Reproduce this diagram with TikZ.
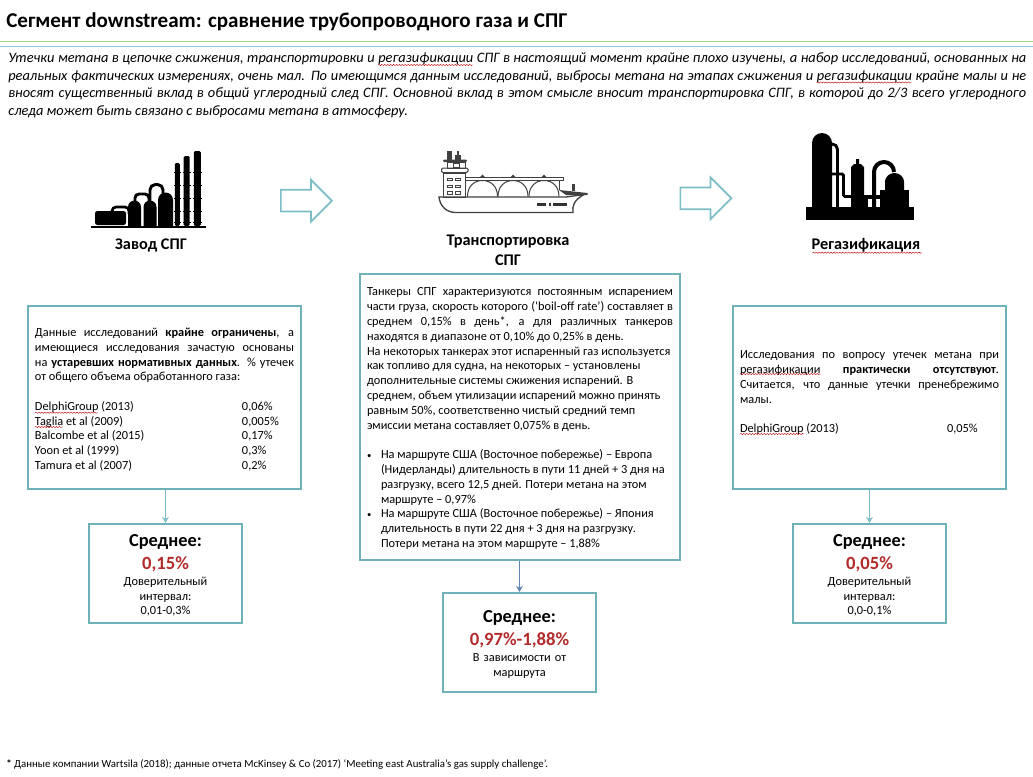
\documentclass[tikz,border=0pt]{standalone}
\usepackage{fontspec}
\setmainfont{Carlito}
\usetikzlibrary{arrows.meta,positioning,shapes.arrows,decorations.pathmorphing}
\definecolor{boxteal}{HTML}{6FB1B9}
\definecolor{flowteal}{HTML}{7CBDC6}
\definecolor{linkblue}{HTML}{5F86B3}
\definecolor{meanred}{HTML}{B22A2A}
\definecolor{rulegreen}{HTML}{A0D27A}
\definecolor{ruleblue}{HTML}{86D0DE}
\tikzset{
  >={Stealth[length=1.6mm,width=1.8mm]},
  titlelbl/.style={font=\fontsize{15.8}{18}\selectfont\bfseries,inner sep=0pt,anchor=base west},
  introtxt/.style={font=\fontsize{10.8}{13.2}\selectfont\itshape,inner sep=0pt,anchor=north west,
    text width=763.5pt,align=justify},
  stagelbl/.style={font=\fontsize{12.2}{15}\selectfont\bfseries,inner sep=0pt,align=center},
  srcbox/.style={draw=boxteal,line width=1.5pt,inner xsep=5.25pt,inner ysep=0pt,
    font=\fontsize{9.25}{11.1}\selectfont,align=justify},
  meanbox/.style={draw=boxteal,line width=1.5pt,minimum width=114.75pt,minimum height=74.25pt,
    inner sep=0pt,text width=108pt,align=center,font=\fontsize{9.25}{11}\selectfont},
  meanlink/.style={->,line width=0.8pt,draw=flowteal},
  flowarrow/.style={single arrow,draw=flowteal,line width=1.3pt,minimum height=38.25pt,
    single arrow head extend=7.5pt,inner sep=7.5pt,anchor=tail},
  footlbl/.style={font=\fontsize{8.13}{10}\selectfont,inner sep=0pt,anchor=base west},
  spelline/.style={draw=red!75!black,line width=0.3pt,decorate,
    decoration={snake,amplitude=0.45pt,segment length=2.2pt}},
  shipline/.style={draw=black!75,line width=0.75pt},
}
\newcommand{\meanhead}[1]{\rule{0pt}{11.5pt}{\fontsize{13.75}{11}\selectfont\bfseries Среднее:}\\[4.7pt]
  {\fontsize{14}{11}\selectfont\bfseries\color{meanred}#1}\\[1pt]}
\newcommand{\datarow}[2]{\makebox[155.25pt][l]{#1}#2}
\newcommand{\bulletmark}{\makebox[10.5pt][l]{\fontsize{6.5}{6.5}\selectfont•}}
\begin{document}
\begin{tikzpicture}[x=0.75pt,y=-0.75pt]
  \useasboundingbox (0,0) rectangle (1033,776);
  % --- header ---
  \node[titlelbl] (title) at (6,27.5) {Сегмент downstream: сравнение трубопроводного газа и СПГ};
  \draw[rulegreen,line width=0.8pt] (0,41.5) -- (1033,41.5);
  \draw[ruleblue,line width=0.8pt] (0,46.5) -- (1033,46.5);
  \node[introtxt] (intro) at (8,52.5) {Утечки метана в цепочке сжижения, транспортировки и регазификации СПГ в настоящий момент крайне плохо изучены, а набор исследований, основанных на\linebreak
    реальных фактических измерениях, очень мал. По имеющимся данным исследований, выбросы метана на этапах сжижения и регазификации крайне малы и не\linebreak
    вносят существенный вклад в общий углеродный след СПГ. Основной вклад в этом смысле вносит транспортировка СПГ, в которой до 2/3 всего углеродного\linebreak
    следа может быть связано с выбросами метана в атмосферу.};
  % --- stage labels and block arrows ---
  \node[stagelbl] (plantlbl) at (151,245) {Завод СПГ};
  \node[stagelbl] (shiplbl) at (508,250) {Транспортировка\\СПГ};
  \node[stagelbl] (regaslbl) at (866,245) {Регазификация};
  \node[flowarrow] (flowa) at (280,200.7) {};
  \node[flowarrow] (flowb) at (679.5,198.3) {};
  % --- source boxes ---
  \node[srcbox,minimum width=204.75pt,minimum height=137.25pt,text width=194.25pt] (plantbox) at (164.5,397.5) {\rule{0pt}{9.5pt}Данные исследований \textbf{крайне ограничены}, а\linebreak
    имеющиеся исследования зачастую основаны\linebreak
    на \textbf{устаревших нормативных данных}. \% утечек\linebreak
    от общего объема обработанного газа:\\[11pt]
    \datarow{DelphiGroup (2013)}{0,06\%}\\
    \datarow{Taglia et al (2009)}{0,005\%}\\
    \datarow{Balcombe et al (2015)}{0,17\%}\\
    \datarow{Yoon et al (1999)}{0,3\%}\\
    \datarow{Tamura et al (2007)}{0,2\%}};
  \node[srcbox,minimum width=240pt,minimum height=214.5pt,text width=229.5pt] (shipbox) at (520,417) {\rule{0pt}{8.5pt}Танкеры СПГ характеризуются постоянным испарением\linebreak
    части груза, скорость которого (‘boil-off rate’) составляет в\linebreak
    среднем 0,15\% в день*, а для различных танкеров\linebreak
    находятся в диапазоне от 0,10\% до 0,25\% в день.\\
    На некоторых танкерах этот испаренный газ используется\\
    как топливо для судна, на некоторых – установлены\\
    дополнительные системы сжижения испарений. В\\
    среднем, объем утилизации испарений можно принять\\
    равным 50\%, соответственно чистый средний темп\\
    эмиссии метана составляет 0,075\% в день.\\[11pt]
    \bulletmark На маршруте США (Восточное побережье) – Европа\\
    \hspace*{10.5pt}(Нидерланды) длительность в пути 11 дней + 3 дня на\\
    \hspace*{10.5pt}разгрузку, всего 12,5 дней. Потери метана на этом\\
    \hspace*{10.5pt}маршруте – 0,97\%\\
    \bulletmark На маршруте США (Восточное побережье) – Япония\\
    \hspace*{10.5pt}длительность в пути 22 дня + 3 дня на разгрузку.\\
    \hspace*{10.5pt}Потери метана на этом маршруте – 1,88\%};
  \node[srcbox,minimum width=204.75pt,minimum height=137.25pt,text width=194.25pt] (regasbox) at (869.5,397.5) {Исследования по вопросу утечек метана при\linebreak
    регазификации \textbf{практически отсутствуют}.\linebreak
    Считается, что данные утечки пренебрежимо\linebreak
    малы.\\[11pt]
    \datarow{DelphiGroup (2013)}{0,05\%}\\[-2.5pt]
    \mbox{}};
  % --- means ---
  \node[meanbox] (plantmean) at (165.5,573.5) {\meanhead{0,15\%}Доверительный\\интервал:\\0,01-0,3\%};
  \node[meanbox] (shipmean) at (519.5,642.5) {\meanhead{0,97\%-1,88\%}В зависимости от\\маршрута};
  \node[meanbox] (regasmean) at (869.5,573.5) {\meanhead{0,05\%}Доверительный\\интервал:\\0,0-0,1\%};
  \draw[meanlink] (plantmean.north |- plantbox.south) -- (plantmean.north);
  \draw[meanlink,draw=linkblue] (shipmean.north |- shipbox.south) -- (shipmean.north);
  \draw[meanlink] (regasmean.north |- regasbox.south) -- (regasmean.north);
  % --- spell-check marks ---
  \foreach \xa/\xb/\ya in {378/473/65,816.5/911/82.5,35/98/412.7,35/63/427,740/821/374,740/804/434,812.5/922/252.7}
    \draw[spelline] (\xa,\ya) -- (\xb,\ya);
  % --- footnote ---
  \node[footlbl] (foot) at (6,767) {\textbf{*} Данные компании Wartsila (2018); данные отчета McKinsey \& Co (2017) ‘Meeting east Australia’s gas supply challenge’.};
  % --- plant icon ---
  \begin{scope}
    \fill (91,226) rectangle (206,228);
    \fill[rounded corners=1.8pt] (95,211) rectangle (126,225);
    \draw[line width=2pt,rounded corners=3pt] (112,212) -- (112,207) -- (129,207) -- (129,214);
    \fill (128,226) -- (128,207) arc (180:360:6.5 and 6.5) -- (141,226) -- cycle;
    \fill (143.5,226) -- (143.5,207) arc (180:360:6.5 and 6.5) -- (156.5,226) -- cycle;
    \fill (158,226) -- (158,200) arc (180:360:7.5 and 7.5) -- (173,226) -- cycle;
    \draw[line width=2.2pt,rounded corners=3pt] (135,202) -- (135,194) -- (149,194) -- (149,202);
    \draw[line width=2.2pt,rounded corners=4pt] (150,202) -- (150,184.5) -- (163,184.5) -- (163,194);
    \foreach \cx/\ctop/\cw in {177.3/163/5,186.7/156/6,197.3/151/7} {
      \fill[rounded corners=1pt] (\cx-\cw/2,\ctop) rectangle (\cx+\cw/2,226);
      \foreach \ty in {172,185,198,211,222}
        \fill (\cx-\cw/2-1,\ty) rectangle (\cx+\cw/2+1,\ty+1);
    }
  \end{scope}
  % --- tanker icon ---
  \begin{scope}
    \draw[shipline,line width=1pt] (439,197) .. controls (440,206) and (446,212) .. (455,212.5) -- (573,212.5)
      .. controls (572,206) and (574,200) .. (584,194.5) -- (566,197) -- cycle;
    \draw[shipline] (443,197) rectangle (465,173);
    \draw[shipline,fill=white,rounded corners=1pt] (441.5,168) rectangle (468,172.5);
    \draw[shipline] (447,168) rectangle (465,162);
    \fill[black!75,rounded corners=0.8pt] (443,159.5) rectangle (467,162);
    \fill[black!75] (447,151) rectangle (451.5,159.5);
    \fill[black!75] (457,151) rectangle (459,159.5);
    \fill[black!75] (454.5,155) rectangle (461,159.5);
    \draw[shipline] (453,163.5) rectangle (459,167);
    \foreach \wy in {178,185,191.5} \foreach \wx in {447.5,455.5}
      \draw[shipline,line width=0.6pt] (\wx,\wy) rectangle (\wx+5,\wy+2.5);
    \draw[shipline] (466,177.5) -- (563,177.5) -- (563,180) -- (466,180);
    \foreach \ax in {467.5,498,529} {
      \draw[shipline] (\ax,196.5) .. controls (\ax,186) and (\ax+7,180.5) .. (\ax+15,180.5)
        .. controls (\ax+23,180.5) and (\ax+30,186) .. (\ax+30,196.5);
      \fill[black!75] (\ax+12,177.5) -- (\ax+15,174.5) -- (\ax+18,177.5) -- cycle;
    }
    \draw[shipline] (559,180) -- (559,190);
    \fill[black!75] (559,190) -- (587.5,193) -- (587.5,195) -- (566,195) -- cycle;
    \fill[black!75] (572,184) rectangle (574.5,191);
    \foreach \bx/\bw in {537/9,549/2,553/14}
      \fill[black!80] (\bx,202.5) rectangle (\bx+\bw,205.5);
  \end{scope}
  % --- regas icon ---
  \begin{scope}
    \fill (806,207) rectangle (914,220);
    \fill (812,207) -- (812,143) arc (180:360:10 and 10) -- (832,207) -- cycle;
    \draw[line width=2.2pt,rounded corners=4pt] (831,144) -- (837.5,144) -- (837.5,207);
    \draw[line width=2.2pt,rounded corners=1pt] (832,174) -- (843.5,174) -- (843.5,196.5) -- (852,196.5);
    \fill (851,207) -- (851,167) -- (854,164) -- (856,164) -- (856,159) -- (859,159) -- (859,164) -- (861,164) -- (864,167) -- (864,207) -- cycle;
    \draw[line width=3pt] (864,197) -- (881,197);
    \draw[line width=3pt] (865.5,197) -- (865.5,207);
    \draw[line width=3pt] (874,207) -- (874,172) arc (180:360:10 and 10);
    \fill (885,190) -- (885,182) arc (180:360:9.5 and 9) -- (904,190) -- cycle;
    \fill (880,207) rectangle (908.5,190);
    \fill (885,192) rectangle (904,180);
  \end{scope}
\end{tikzpicture}
\end{document}
